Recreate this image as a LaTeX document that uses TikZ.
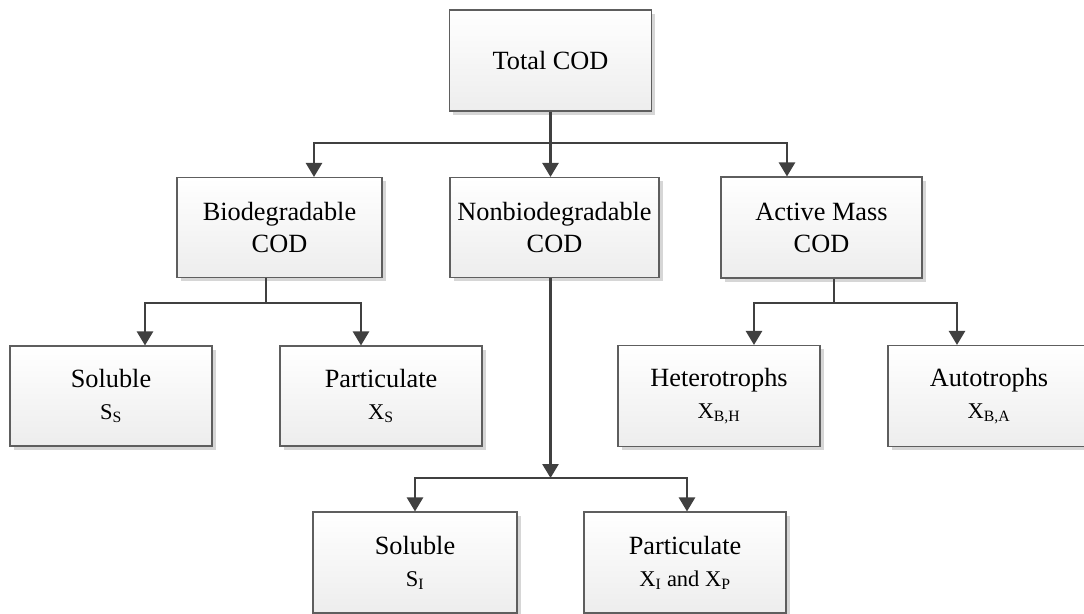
\documentclass[tikz,border=0pt]{standalone}
\usepackage{fontspec}
\setmainfont{Liberation Serif}
\usetikzlibrary{arrows.meta,shadows}

\definecolor{wirecol}{HTML}{404040}
\definecolor{edgecol}{HTML}{5E5E5E}
\definecolor{shadecol}{HTML}{EDEDED}
\definecolor{shadowcol}{HTML}{D6D6D6}

\newcommand\subline{\fontsize{22.5}{32}\selectfont}

\tikzset{
  box/.style={draw=edgecol, line width=1.1pt, top color=white, bottom color=shadecol,
    align=center, inner sep=0pt,
    font=\fontsize{26.3}{32}\selectfont,
    drop shadow={shadow xshift=3.5pt, shadow yshift=-3.5pt, fill=shadowcol, opacity=1}},
  wire/.style={draw=wirecol, line width=2.6pt},
  arr/.style={wire, -{Triangle[width=16pt,length=14pt]}}
}

\begin{document}
\begin{tikzpicture}[x=1pt,y=-1pt]
\useasboundingbox (0,0) rectangle (1084,613);

% boxes
\node[box, minimum width=202pt, minimum height=101pt] (total)  at (550.5,60.5) {Total COD};
\node[box, minimum width=205pt, minimum height=100pt] (bio)    at (279.5,227.5) {Biodegradable\\COD};
\node[box, minimum width=209pt, minimum height=100pt] (nonbio) at (554.5,227.5) {Nonbiodegradable\\COD};
\node[box, minimum width=201pt, minimum height=101pt] (active) at (821.5,227.5) {Active Mass\\COD};

\node[box, minimum width=202pt, minimum height=100pt] (sols)   at (111,396) {Soluble\\{\subline S\textsubscript{S}}};
\node[box, minimum width=202pt, minimum height=100pt] (partxs) at (381,396) {Particulate\\{\subline X\textsubscript{S}}};
\node[box, minimum width=202pt, minimum height=101pt] (hetero) at (719,396) {Heterotrophs\\{\subline X\textsubscript{B,H}}};
\node[box, minimum width=202pt, minimum height=101pt] (auto)   at (989,396) {Autotrophs\\{\subline X\textsubscript{B,A}}};

\node[box, minimum width=204pt, minimum height=101pt] (soli)   at (415,562.5) {Soluble\\{\subline S\textsubscript{I}}};
\node[box, minimum width=202pt, minimum height=101pt] (partxi) at (685,562.5) {Particulate\\{\subline X\textsubscript{I} and X\textsubscript{P}}};

% junction and branch positions
\coordinate (j0) at (550.5,143);
\coordinate (bx1) at (314,0);
\coordinate (bx3) at (787,0);
\coordinate (j1) at (266,303);
\coordinate (sx1) at (145,0);
\coordinate (sx2) at (361,0);
\coordinate (j2) at (550.5,478);
\coordinate (px2) at (687,0);
\coordinate (j3) at (834,303);
\coordinate (hx1) at (754,0);
\coordinate (hx2) at (957,0);

% top level
\draw[wire] (total.south) -- (j0);
\draw[arr] (j0) -| (bio.north -| bx1);
\draw[arr] (j0) -- (j0 |- nonbio.north);
\draw[arr] (j0) -| (active.north -| bx3);

% biodegradable branch
\draw[wire] (bio.south -| j1) -- (j1);
\draw[arr] (j1) -| (sols.north -| sx1);
\draw[arr] (j1) -| (partxs.north -| sx2);

% nonbiodegradable branch
\draw[arr] (nonbio.south -| j2) -- (j2);
\draw[arr] (j2) -| (soli.north);
\draw[arr] (j2) -| (partxi.north -| px2);

% active mass branch
\draw[wire] (active.south -| j3) -- (j3);
\draw[arr] (j3) -| (hetero.north -| hx1);
\draw[arr] (j3) -| (auto.north -| hx2);
\end{tikzpicture}
\end{document}
